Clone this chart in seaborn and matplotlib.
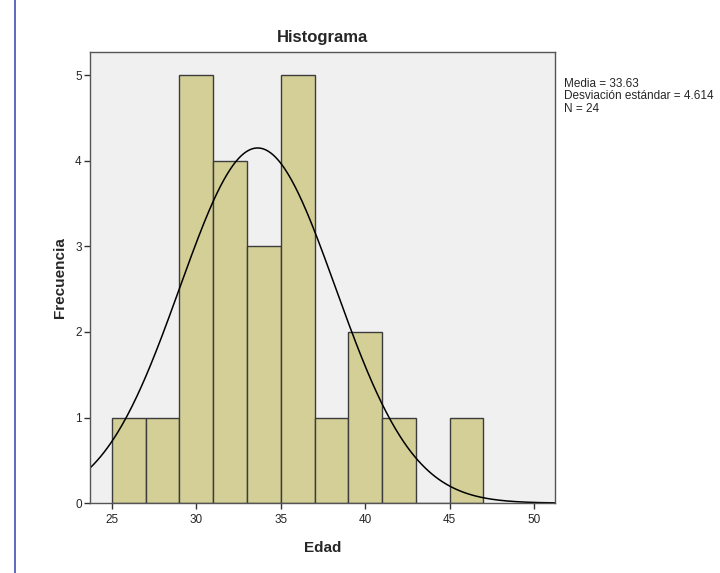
import numpy as np
import pandas as pd
import matplotlib
matplotlib.use("Agg")
import matplotlib.pyplot as plt
import seaborn as sns
from matplotlib.lines import Line2D

# Data
bin_left = [25, 27, 29, 31, 33, 35, 37, 39, 41, 43, 45]
counts = [1, 1, 5, 4, 3, 5, 1, 2, 1, 0, 1]
bin_width = 2
media = 33.63
desv = 4.614
n_total = 24
x_ticks = [25, 30, 35, 40, 45, 50]
y_ticks = [0, 1, 2, 3, 4, 5]

sns.set_theme(style="white")
plt.rcParams['font.family'] = ['Liberation Sans', 'DejaVu Sans']

fig = plt.figure(figsize=(7.2, 5.73), dpi=100)
ax = fig.add_axes([0.125, 0.122, 0.646, 0.787])
ax.set_facecolor("#f0f0f0")

df = pd.DataFrame({"centro": [b + bin_width / 2 for b in bin_left], "frecuencia": counts})
edges = bin_left + [bin_left[-1] + bin_width]
sns.histplot(data=df, x="centro", weights="frecuencia", bins=edges, ax=ax,
             color="#d3cf96", alpha=1, edgecolor="#3c3c3c", linewidth=1.0)

xs = np.linspace(23.7, 51.25, 400)
ys = n_total * bin_width * np.exp(-0.5 * ((xs - media) / desv) ** 2) / (desv * np.sqrt(2 * np.pi))
sns.lineplot(x=xs, y=ys, ax=ax, color="black", linewidth=1.1)

ax.set_xlim(23.7, 51.25)
ax.set_ylim(0, 5.27)
ax.set_xticks(x_ticks)
ax.set_yticks(y_ticks)
ax.tick_params(axis="both", which="both", direction="out", length=4, width=1,
               color="#333333", labelsize=8.5, bottom=True, left=True)
ax.tick_params(axis="x", pad=4)
ax.tick_params(axis="y", pad=2)
for s in ax.spines.values():
    s.set_color("#555555")
    s.set_linewidth(1)

ax.set_xlabel("Edad", fontsize=11, fontweight="bold", labelpad=11)
ax.set_ylabel("Frecuencia", fontsize=11, fontweight="bold", labelpad=6)
ax.set_title("Histograma", fontsize=12, fontweight="bold", pad=7)

fig.text(0.783, 0.864, f"Media = {media:.2f}\nDesviación estándar = {desv:.3f}\nN = {n_total}",
         fontsize=8.5, va="top", ha="left", linespacing=1.05)

fig.add_artist(Line2D([0.021, 0.021], [0.0, 1.0], transform=fig.transFigure,
                      color="#3f51b5", linewidth=1.2))

fig.savefig("out.png", dpi=100, facecolor="white")
